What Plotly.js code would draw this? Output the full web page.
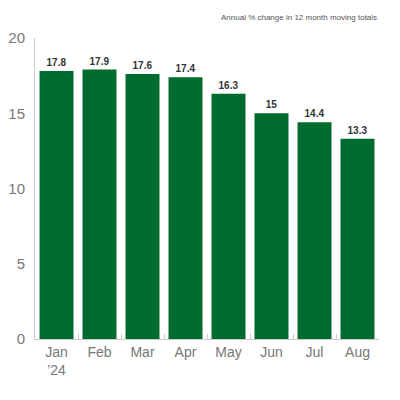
<!DOCTYPE html>
<html>
<head>
<meta charset="utf-8">
<script src="https://cdn.plot.ly/plotly-3.0.1.min.js"></script>
<style>
  html, body { margin: 0; padding: 0; background: #fff; }
  #chart { width: 400px; height: 400px; }
</style>
</head>
<body>
<div id="chart"></div>
<script>
var months = ['Jan<br>\u201924', 'Feb', 'Mar', 'Apr', 'May', 'Jun', 'Jul', 'Aug'];
var change = [17.8, 17.9, 17.6, 17.4, 16.3, 15, 14.4, 13.3];
var yTicks = [0, 5, 10, 15, 20];

var trace = {
    x: months,
    y: change,
    type: 'bar',
    marker: { color: '#006b2e' },
    text: change.map(String),
    textposition: 'outside',
    cliponaxis: false,
    textfont: { family: 'Liberation Sans, Arial, sans-serif', size: 10, color: '#333', weight: 600 },
    hoverinfo: 'none'
};

var layout = {
    width: 400,
    height: 400,
    margin: { l: 35, r: 21, t: 38, b: 61 },
    paper_bgcolor: '#fff',
    plot_bgcolor: '#fff',
    bargap: 0.21,
    showlegend: false,
    font: { family: 'Liberation Sans, Arial, sans-serif', color: '#777' },
    xaxis: {
        showline: true,
        linecolor: '#ccc',
        linewidth: 1,
        ticks: 'inside',
        tickson: 'boundaries',
        ticklen: 5,
        tickcolor: '#ccc',
        tickfont: { size: 14, color: '#777' },
        showgrid: false
    },
    yaxis: {
        range: [0, 20],
        tickvals: yTicks,
        showline: true,
        linecolor: '#ccc',
        linewidth: 1,
        ticks: '',
        showgrid: false,
        zeroline: false,
        tickfont: { size: 15, color: '#777' },
        ticklabelstandoff: 6
    },
    annotations: [{
        text: 'Annual % change in 12 month moving totals',
        xref: 'paper', yref: 'paper',
        x: 1, y: 1,
        xanchor: 'right', yanchor: 'bottom',
        yshift: 14,
        showarrow: false,
        font: { family: 'Liberation Sans, Arial, sans-serif', size: 8, color: '#555' }
    }]
};

Plotly.newPlot('chart', [trace], layout, { displayModeBar: false, staticPlot: true });
</script>
</body>
</html>
